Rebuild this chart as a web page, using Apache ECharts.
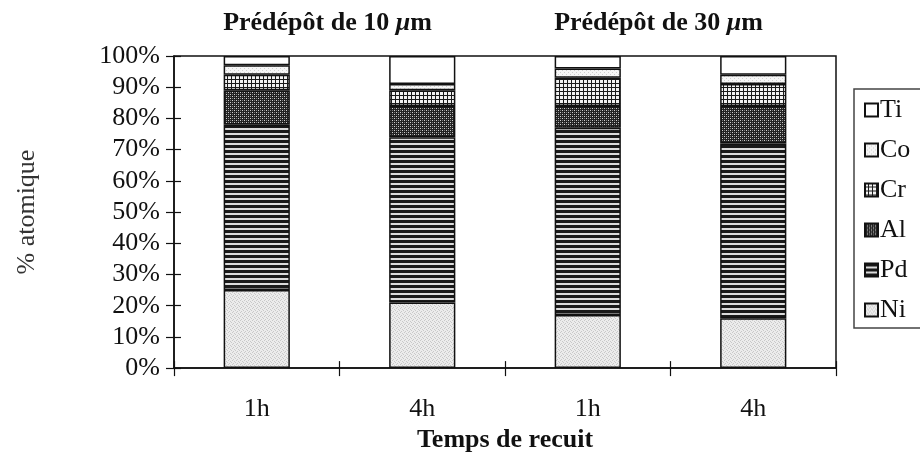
<!DOCTYPE html>
<html>
<head>
<meta charset="utf-8">
<script src="https://cdn.jsdelivr.net/npm/echarts@6/dist/echarts.min.js"></script>
<style>
  html, body { margin: 0; padding: 0; background: #fff; }
  #chart { width: 920px; height: 458px; }
</style>
</head>
<body>
<div id="chart"></div>
<script>
// Annealing time for each bar, grouped by pre-deposit thickness
const categories = ['1h', '4h', '1h', '4h'];
const groups = ['Prédépôt de 10 ', 'Prédépôt de 30 '];
const groupOf = [0, 0, 1, 1];

// Atomic composition (%) per bar, bottom to top of the stack
const ni = [25, 21, 17, 16];
const pd = [53, 53, 60, 56];
const al = [11, 10, 7, 12];
const cr = [5, 5, 9, 7];
const co = [3, 2, 3, 3];
const ti = [3, 9, 4, 6];

const yTicks = [0, 10, 20, 30, 40, 50, 60, 70, 80, 90, 100];

const FONT = '"Liberation Serif", "Times New Roman", serif';
const FS = 26;

// Small repeating tiles used as hatch fills
function tile(w, h, draw) {
  const c = document.createElement('canvas');
  c.width = w; c.height = h;
  const g = c.getContext('2d');
  draw(g);
  return { image: c, repeat: 'repeat' };
}
function px(g, col, pts) {
  g.fillStyle = col;
  pts.forEach(p => g.fillRect(p[0], p[1], 1, 1));
}

const fillNi = tile(4, 4, g => {
  g.fillStyle = '#ececec'; g.fillRect(0, 0, 4, 4);
  px(g, '#c9c9c9', [[0, 0], [2, 1], [1, 3], [3, 2]]);
});
const fillPd = tile(5, 5, g => {
  g.fillStyle = '#dcdcdc'; g.fillRect(0, 0, 5, 5);
  g.fillStyle = '#1a1a1a'; g.fillRect(0, 0, 5, 3);
});
const fillAl = tile(4, 4, g => {
  g.fillStyle = '#222'; g.fillRect(0, 0, 4, 4);
  px(g, '#d0d0d0', [[0, 0], [2, 2]]);
  px(g, '#7a7a7a', [[2, 0], [0, 2]]);
});
const fillCr = tile(4, 4, g => {
  g.fillStyle = '#f2f2f2'; g.fillRect(0, 0, 4, 4);
  g.fillStyle = '#1a1a1a';
  g.fillRect(3, 0, 1, 4);
  g.fillRect(0, 3, 4, 1);
});
const fillCo = tile(4, 4, g => {
  g.fillStyle = '#f6f6f6'; g.fillRect(0, 0, 4, 4);
  px(g, '#cfcfcf', [[0, 0], [2, 2]]);
});
const fillTi = '#ffffff';

const layers = [
  { name: 'Ni', data: ni, fill: fillNi },
  { name: 'Pd', data: pd, fill: fillPd },
  { name: 'Al', data: al, fill: fillAl },
  { name: 'Cr', data: cr, fill: fillCr },
  { name: 'Co', data: co, fill: fillCo },
  { name: 'Ti', data: ti, fill: fillTi }
];

const chart = echarts.init(document.getElementById('chart'), null, { renderer: 'canvas' });

const labelStyle = { fontFamily: FONT, fontSize: FS, color: '#111' };

chart.setOption({
  animation: false,
  backgroundColor: '#fff',
  grid: {
    left: 174, right: 84, top: 56, bottom: 82,
    show: true, borderColor: '#111', borderWidth: 1.5, backgroundColor: 'transparent'
  },
  legend: {
    orient: 'vertical',
    left: 854, top: 89,
    padding: [8, 40, 5, 10],
    borderColor: '#444', borderWidth: 1.5,
    itemWidth: 13, itemHeight: 13, itemGap: 14,
    icon: 'rect',
    data: layers.map(l => l.name).reverse(),
    textStyle: { fontFamily: FONT, fontSize: FS, color: '#111', padding: [0, 0, 0, -3] }
  },
  xAxis: [
    {
      type: 'category', data: categories,
      axisLine: { lineStyle: { color: '#111', width: 1.5 } },
      axisTick: { show: true, length: 8, lineStyle: { color: '#111', width: 1.2 } },
      axisLabel: Object.assign({ margin: 28 }, labelStyle),
      name: 'Temps de recuit', nameLocation: 'middle', nameGap: 52,
      nameTextStyle: { fontFamily: FONT, fontSize: FS, fontWeight: 'bold', color: '#111' }
    },
    {
      type: 'category', data: categories, position: 'bottom',
      axisLine: { show: false },
      axisTick: { show: true, inside: true, length: 7, lineStyle: { color: '#111', width: 1.2 } },
      axisLabel: { show: false }
    }
  ],
  yAxis: [
    {
      type: 'value', min: 0, max: 100, interval: 10,
      axisLine: { show: true, lineStyle: { color: '#111', width: 1.5 } },
      axisTick: { show: true, length: 8, lineStyle: { color: '#111', width: 1.2 } },
      splitLine: { show: false },
      axisLabel: Object.assign({ margin: 14, formatter: v => v + '%',
        customValues: yTicks }, labelStyle),
      name: '% atomique', nameLocation: 'middle', nameGap: 134,
      nameTextStyle: { fontFamily: FONT, fontSize: FS, color: '#333' }
    },
    {
      type: 'value', min: 0, max: 100, interval: 10, position: 'left',
      axisLine: { show: false },
      axisTick: { show: true, inside: true, length: 7, lineStyle: { color: '#111', width: 1.2 } },
      splitLine: { show: false },
      axisLabel: { show: false }
    }
  ],
  series: layers.map(l => ({
    name: l.name,
    type: 'bar',
    stack: 'total',
    barWidth: '40%',
    data: l.data,
    itemStyle: { color: l.fill, borderColor: '#111', borderWidth: 1.5 },
    emphasis: { disabled: true }
  }))
});

// Group headings centred over their pair of bars
const titles = groups.map((g, gi) => {
  const idx = groupOf.map((v, i) => v === gi ? i : -1).filter(i => i >= 0);
  const xs = idx.map(i => chart.convertToPixel({ xAxisIndex: 0 }, i));
  const cx = (xs[0] + xs[xs.length - 1]) / 2 - 12;
  return {
    type: 'text', x: cx, y: 10,
    style: {
      text: '{b|' + g + '}{m|μ}{b|m}',
      rich: {
        b: { fontFamily: FONT, fontSize: FS, fontWeight: 'bold', fill: '#111' },
        m: { fontFamily: FONT, fontSize: FS, fontWeight: 'bold', fontStyle: 'italic', fill: '#111' }
      },
      textAlign: 'center', fill: '#111'
    }
  };
});
chart.setOption({ graphic: titles });
</script>
</body>
</html>
